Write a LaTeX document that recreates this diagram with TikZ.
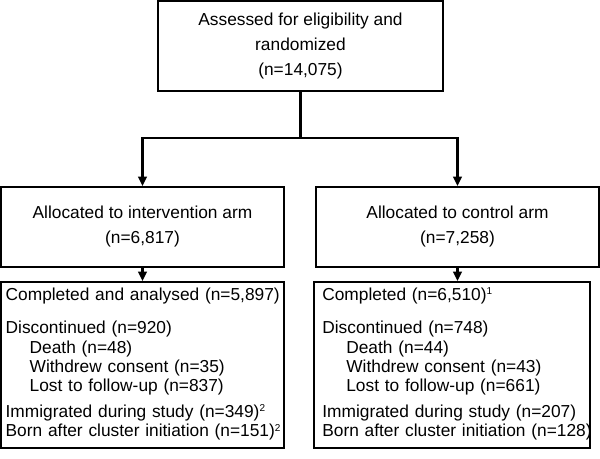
\documentclass[tikz,border=0pt]{standalone}
\usepackage{fontspec}
\setmainfont{Liberation Sans}
\usetikzlibrary{arrows.meta, positioning}
\tikzstyle{arrow} = [line width=1.6pt, -{Triangle[length=7pt, width=6.5pt]}, black]
\tikzstyle{trunk} = [line width=1.6pt, black]
\tikzstyle{stagebox} = [rectangle, draw=black, line width=1.6pt, fill=white, inner sep=0pt,
                        align=center, font=\fontsize{13}{18.75}\selectfont]
\tikzstyle{listbox} = [rectangle, draw=black, line width=1.6pt, fill=white, inner xsep=3.5pt, inner ysep=0pt,
                       align=left, minimum height=124.5pt, font=\fontsize{13}{14.4}\selectfont]
\newcommand{\itemgap}{\hspace*{18pt}}
\newcommand{\notemark}[1]{\textsuperscript{\fontsize{7.5}{8}\selectfont #1}}

\begin{document}
\begin{tikzpicture}[x=0.75pt, y=-0.75pt]
    \useasboundingbox (0,0) rectangle (600,458);
    % Enrolment and allocation boxes
    \node[stagebox, minimum width=213.75pt, minimum height=67.5pt] (assessed) at (300.5,46)
        {Assessed for eligibility and\\randomized\\(n=14,075)};
    \node[stagebox, minimum width=212.25pt, minimum height=60pt] (interv) at (142.5,227)
        {Allocated to intervention arm\\(n=6,817)};
    \node[stagebox, minimum width=212.25pt, minimum height=60pt] (control) at (457.5,227)
        {Allocated to control arm\\(n=7,258)};

    % Follow-up boxes
    \node[listbox, text width=205.25pt] (intervout) at (142.5,365)
        {\begin{tabular}{@{}l@{}}
        Completed and analysed (n=5,897)\\[10.5pt]
        Discontinued (n=920)\\
        \itemgap Death (n=48)\\
        \itemgap Withdrew consent (n=35)\\
        \itemgap Lost to follow-up (n=837)\\[5.25pt]
        Immigrated during study (n=349)\notemark{2}\\
        Born after cluster initiation (n=151)\notemark{2}
        \end{tabular}};
    \node[listbox, text width=200pt] (controlout) at (452,365)
        {\begin{tabular}{@{\hspace{2.75pt}}l@{}}
        Completed (n=6,510)\notemark{1}\\[10.5pt]
        Discontinued (n=748)\\
        \itemgap Death (n=44)\\
        \itemgap Withdrew consent (n=43)\\
        \itemgap Lost to follow-up (n=661)\\[5.25pt]
        Immigrated during study (n=207)\\
        Born after cluster initiation (n=128)
        \end{tabular}};

    % Arrows
    \coordinate (split) at (300.5,138);
    \draw[trunk] (assessed) -- (split);
    \draw[arrow] (split) -| (interv);
    \draw[arrow] (split) -| (control);
    \draw[arrow] (interv) -- (intervout);
    \draw[arrow] (control) -- (control |- controlout.north);
\end{tikzpicture}
\end{document}
